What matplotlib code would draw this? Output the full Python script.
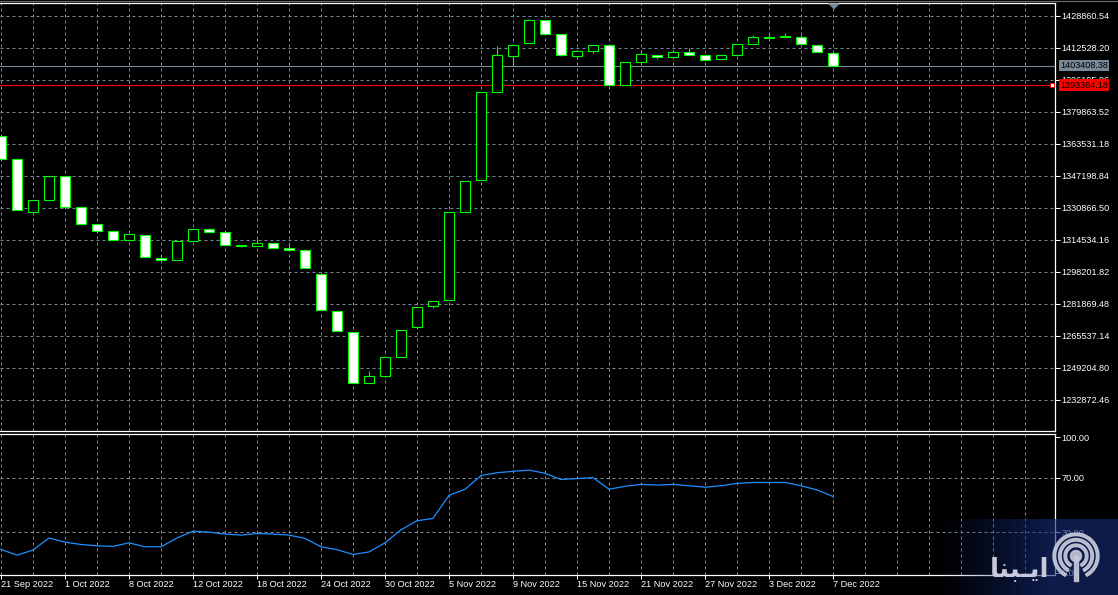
import numpy as np
import matplotlib
matplotlib.use('Agg')
import matplotlib.pyplot as plt
from matplotlib.lines import Line2D
from matplotlib.patches import Wedge, Circle, Rectangle

plt.rcParams['font.family'] = ['Liberation Sans', 'DejaVu Sans']

# ---------------- data ----------------
date_labels = ['21 Sep 2022', '1 Oct 2022', '8 Oct 2022', '12 Oct 2022', '18 Oct 2022',
               '24 Oct 2022', '30 Oct 2022', '5 Nov 2022', '9 Nov 2022', '15 Nov 2022',
               '21 Nov 2022', '27 Nov 2022', '3 Dec 2022', '7 Dec 2022']

open_ = [1367446, 1355554, 1328504, 1334628, 1347030, 1331055, 1322379, 1318806, 1314213, 1316765,
         1305026, 1304005, 1313702, 1319827, 1318296, 1311559, 1311150, 1312682, 1310130, 1309109,
         1296860, 1277975, 1267257, 1241228, 1244800, 1254498, 1269809, 1280527, 1283590, 1328504,
         1344836, 1389750, 1408123, 1414758, 1426497, 1419352, 1408123, 1410675, 1413738, 1393476,
         1405061, 1408634, 1407613, 1410165, 1408634, 1406592, 1408634, 1414248, 1417310, 1417821,
         1417821, 1413738, 1409655]
high = [1367446, 1355554, 1334628, 1347030, 1347030, 1331055, 1322379, 1318806, 1317275, 1316765,
        1306557, 1313702, 1319827, 1320337, 1318296, 1311559, 1314723, 1312682, 1312171, 1309619,
        1296860, 1277975, 1267257, 1247352, 1254498, 1268278, 1280017, 1283079, 1328504, 1344325,
        1389750, 1413380, 1413738, 1427008, 1426497, 1419352, 1411186, 1413738, 1413738, 1405061,
        1411186, 1408634, 1411186, 1412207, 1408634, 1408634, 1414248, 1418842, 1419862, 1419862,
        1418842, 1413738, 1410675]
low = [1355554, 1329524, 1328504, 1334628, 1331055, 1322379, 1318806, 1314213, 1314213, 1305536,
       1304005, 1304005, 1313702, 1318296, 1311661, 1310640, 1311150, 1310130, 1308599, 1299922,
       1278486, 1267768, 1241228, 1241228, 1244290, 1254498, 1269299, 1279506, 1283590, 1328504,
       1344836, 1389750, 1403020, 1414758, 1419352, 1408123, 1408123, 1409655, 1393476, 1393476,
       1405061, 1406899, 1407613, 1408634, 1406082, 1406592, 1408634, 1414248, 1417310, 1417821,
       1414248, 1410165, 1403408]
close_ = [1355554, 1329524, 1334628, 1347030, 1331055, 1322379, 1318806, 1314213, 1317275, 1305536,
          1304005, 1313702, 1319827, 1318296, 1311661, 1311150, 1312682, 1310130, 1309109, 1299922,
          1278486, 1267768, 1241228, 1244800, 1254498, 1268278, 1280017, 1283079, 1328504, 1344325,
          1389750, 1408634, 1413738, 1426497, 1419352, 1408634, 1410675, 1413738, 1393476, 1405061,
          1409144, 1407613, 1410165, 1408634, 1406082, 1408634, 1414248, 1417821, 1417719, 1418638,
          1414248, 1410165, 1403408.38]

rsi = [17.3, 13.0, 16.8, 25.7, 22.6, 20.9, 19.9, 19.5, 22.1, 19.2,
       19.2, 25.7, 30.7, 30.0, 28.6, 27.8, 29.0, 28.6, 27.8, 25.4,
       19.2, 17.1, 13.5, 15.4, 22.1, 31.7, 38.4, 40.1, 57.1, 61.6,
       71.7, 73.8, 74.8, 75.7, 73.4, 68.8, 69.5, 70.2, 61.6, 63.8,
       65.2, 64.7, 65.2, 64.2, 63.1, 64.2, 65.9, 66.6, 66.6, 66.6,
       64.2, 61.1, 56.3]

price_ticks = [1232872.46, 1249204.80, 1265537.14, 1281869.48, 1298201.82, 1314534.16,
               1330866.50, 1347198.84, 1363531.18, 1379863.52, 1396195.86, 1412528.20,
               1428860.54]
rsi_ticks = [0, 30, 70, 100]
rsi_levels = [30, 70]
last_price = 1403408.38
red_price = 1393364.18

# ---------------- layout ----------------
W, H = 1118, 595
GRID = '#778899'
GREEN = '#00ff00'
FS = 6.6

fig = plt.figure(figsize=(W / 100, H / 100), dpi=100, facecolor='black')
ax = fig.add_axes([0, (H - 431) / H, 1055 / W, 428 / H], facecolor='black')
ax2 = fig.add_axes([0, 20 / H, 1055 / W, 141.5 / H], facecolor='black')

n = len(close_)
idx = np.arange(n)
XMIN, XMAX = -1 / 16, 1054 / 16

for a in (ax, ax2):
    a.set_xlim(XMIN, XMAX)
    a.spines['left'].set_visible(False)
    for s in ('top', 'right', 'bottom'):
        a.spines[s].set_color('white')
        a.spines[s].set_linewidth(0.9)
    a.set_axisbelow(True)
    a.yaxis.tick_right()
    a.tick_params(axis='y', colors='white', length=3.6, width=0.72, pad=1.2,
                  labelsize=FS, direction='out')
    for g in range(0, int(XMAX) + 1, 2):
        a.axvline(g, color=GRID, lw=0.72, ls=(0, (3, 3)), zorder=0.3)

# ---- price panel ----
ax.set_ylim(1216882, 1435327)
ax.set_yticks(price_ticks)
ax.set_yticklabels([f'{v:.2f}' for v in price_ticks])
ax.tick_params(axis='x', length=0, labelbottom=False)
for p in price_ticks:
    ax.axhline(p, color=GRID, lw=0.72, ls=(0, (3, 3)), zorder=0.3)

ax.axhline(last_price, color=GRID, lw=0.8, zorder=1.2)
ax.axhline(red_price, color='#ff0000', lw=0.8, zorder=1.2)

o = np.array(open_, dtype=float)
c = np.array(close_, dtype=float)
fills = ['white' if cc < oo else 'black' for oo, cc in zip(o, c)]
ax.vlines(idx, low, high, color=GREEN, lw=0.8, zorder=2)
ax.bar(idx, np.abs(c - o), bottom=np.minimum(o, c), width=0.59, color=fills,
       edgecolor=GREEN, linewidth=0.8, zorder=3)

ax.plot([XMAX - 3 / 16], [red_price], marker='s', ms=3.2, mfc='white', mec='#ff0000',
        mew=0.7, zorder=4, clip_on=False)

ax.annotate(f'{last_price:.2f}', xy=(1, last_price), xycoords=('axes fraction', 'data'),
            xytext=(5, 0), textcoords='offset pixels', ha='left', va='center',
            fontsize=FS, color='black', annotation_clip=False, zorder=6,
            bbox=dict(boxstyle='square,pad=0.15', fc=GRID, ec='none'))
ax.annotate(f'{red_price:.2f}', xy=(1, red_price), xycoords=('axes fraction', 'data'),
            xytext=(5, 0), textcoords='offset pixels', ha='left', va='center',
            fontsize=FS, color='black', annotation_clip=False, zorder=6,
            bbox=dict(boxstyle='square,pad=0.15', fc='#ff0000', ec='none'))

# shift marker at top
ax.plot([idx[-1]], [1 - 2.5 / 428], marker=[(-1, 0.5), (1, 0.5), (0, -0.5)], ms=7.2,
        color=GRID, transform=ax.get_xaxis_transform(), clip_on=False, zorder=5)

# ---- RSI panel ----
ax2.set_ylim(-1.6, 102.7)
ax2.set_yticks(rsi_ticks)
ax2.set_yticklabels([f'{v:.2f}' for v in rsi_ticks])
for lv in rsi_levels:
    ax2.axhline(lv, color=GRID, lw=0.72, ls=(0, (3, 3)), zorder=0.3)
ax2.plot(idx, rsi, color='#1e90ff', lw=0.9, zorder=3)
ax2.set_xticks(idx[::4])
ax2.set_xticklabels(date_labels)
ax2.tick_params(axis='x', colors='white', length=3.0, width=0.72, pad=0.6,
                labelsize=FS, direction='out')
for t in ax2.get_xticklabels():
    t.set_ha('left')

# top window border
fig.add_artist(Line2D([0, 1], [1 - 0.5 / H] * 2, color='#707070', lw=0.8))

# ---- watermark ----
wm = fig.add_axes([940 / W, 0, 178 / W, 76 / H])
wm.set_zorder(10)
wm.set_xlim(940, 1118)
wm.set_ylim(595, 519)
wm.axis('off')
gx = np.linspace(0, 1, 178)
alpha = np.clip(gx / 0.62, 0, 1) * 0.62
img = np.zeros((76, 178, 4))
img[..., 0] = 20 / 255
img[..., 1] = 45 / 255
img[..., 2] = 120 / 255
img[..., 3] = alpha[None, :]
wm.imshow(img, extent=(940, 1118, 595, 519), aspect='auto', interpolation='bilinear')
ICON = '#c8c9da'
cx, cy = 1076, 556
wm.add_patch(Circle((cx, cy), 5.5, color=ICON, alpha=0.9))
for r in (12, 17.5, 23):
    wm.add_patch(Wedge((cx, cy), r, 118, 422, width=2.6, color=ICON, alpha=0.9))
wm.add_patch(Rectangle((cx - 2, cy), 4, 25, color=ICON, alpha=0.9))
wm.text(1019, 576, '\uFE8E\uFEE8\uFE92\u0640\uFEF3\uFE8D', ha='center', va='baseline',
        fontsize=19, fontweight='bold', color=ICON, family=['DejaVu Sans'])

fig.savefig('out.png', dpi=100, facecolor='black')
